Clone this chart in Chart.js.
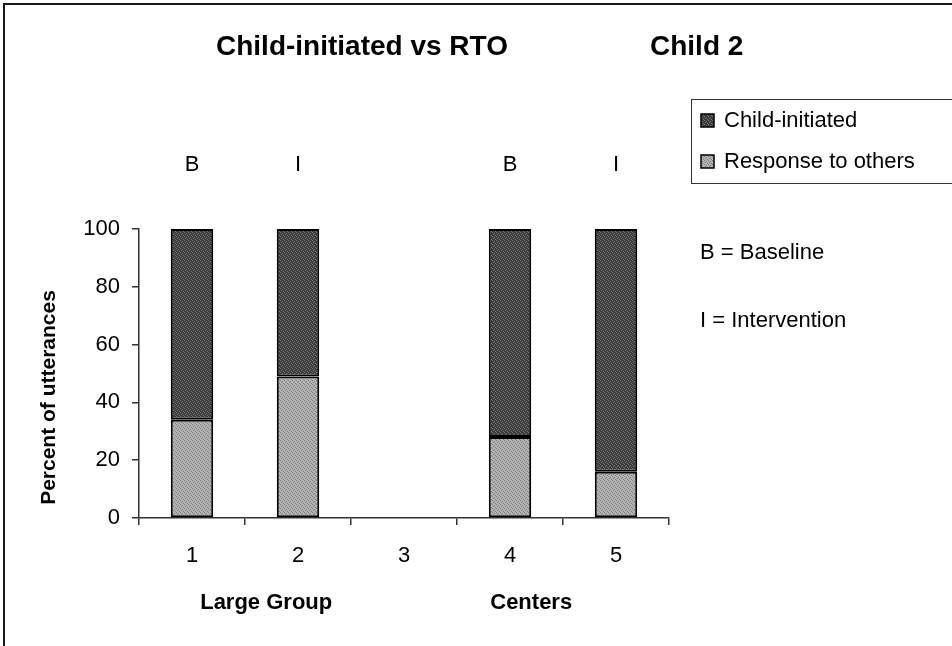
<!DOCTYPE html>
<html>
<head>
<meta charset="utf-8">
<script src="https://cdn.jsdelivr.net/npm/chart.js@4.4.0/dist/chart.umd.min.js"></script>
<style>
  html, body { margin: 0; padding: 0; background: #fff; }
  #wrap { position: relative; width: 952px; height: 646px; }
</style>
</head>
<body>
<div id="wrap"><canvas id="c" width="952" height="646"></canvas></div>
<script>
// Sessions along the x axis
const categories = ['1', '2', '3', '4', '5'];
// Percent of utterances per session (stacked to 100)
const responseToOthers = [34, 49, null, 28, 16];
const childInitiated   = [66, 51, null, 72, 84];
// Y axis tick values
const yTicks = [0, 20, 40, 60, 80, 100];
// Phase letter shown above each session
const phaseLabels = ['B', 'I', '', 'B', 'I'];
// Setting names under the sessions they cover
const groupNames = ['Large Group', 'Centers'];
const groupSpans = [[0, 1], [3, 4]];
// Key for the phase letters
const phaseKey = ['B = Baseline', 'I = Intervention'];

const FONT = '"Liberation Sans", Arial, Helvetica, sans-serif';

// Dithered fills like a printed grey-scale chart
function makePattern(base, dots) {
  const c = document.createElement('canvas');
  c.width = 4; c.height = 4;
  const g = c.getContext('2d');
  g.fillStyle = base;
  g.fillRect(0, 0, 4, 4);
  g.fillStyle = dots;
  [[0,0],[2,1],[1,2],[3,3]].forEach(([px, py]) => g.fillRect(px, py, 1, 1));
  return g.createPattern(c, 'repeat');
}
const darkFill  = makePattern('#3a3a3a', '#7a7a7a');
const lightFill = makePattern('#b4b4b4', '#7c7c7c');

const annotations = {
  id: 'annotations',
  afterDraw(chart) {
    const { ctx, scales: { x, y } } = chart;
    ctx.save();

    // outer frame
    ctx.strokeStyle = '#1a1a1a';
    ctx.lineWidth = 2;
    ctx.beginPath();
    ctx.moveTo(4, 646);
    ctx.lineTo(4, 4);
    ctx.lineTo(952, 4);
    ctx.stroke();

    ctx.fillStyle = '#000';
    ctx.textBaseline = 'middle';

    // title
    ctx.font = 'bold 28px ' + FONT;
    ctx.textAlign = 'left';
    ctx.fillText('Child-initiated vs RTO', 216, 47);
    ctx.fillText('Child 2', 650, 47);

    // y axis title, a little below the axis middle
    ctx.save();
    ctx.font = 'bold 21px ' + FONT;
    ctx.textAlign = 'center';
    ctx.translate(49, (y.top + y.bottom) / 2 + 24);
    ctx.rotate(-Math.PI / 2);
    ctx.fillText('Percent of utterances', 0, 0);
    ctx.restore();

    // phase letters above the bars
    ctx.font = '22px ' + FONT;
    ctx.textAlign = 'center';
    phaseLabels.forEach((t, i) => {
      if (t) ctx.fillText(t, x.getPixelForValue(i), 165);
    });

    // setting names below the axis
    ctx.font = 'bold 22px ' + FONT;
    const shifts = [0.2, -0.3];
    groupNames.forEach((name, i) => {
      const [a, b] = groupSpans[i];
      const cx = x.getPixelForValue((a + b) / 2 + shifts[i]);
      ctx.fillText(name, cx, 603);
    });

    // legend box (runs past the right edge)
    const lx = 691, ly = 99, lh = 84;
    ctx.strokeStyle = '#333';
    ctx.lineWidth = 1;
    ctx.strokeRect(lx + 0.5, ly + 0.5, 300, lh);
    const items = chart.data.datasets.slice().reverse();
    ctx.font = '22px ' + FONT;
    ctx.textAlign = 'left';
    items.forEach((ds, i) => {
      const cy = ly + 22 + i * 41;
      ctx.fillStyle = ds.backgroundColor;
      ctx.fillRect(701, cy - 7, 13, 13);
      ctx.strokeStyle = '#000';
      ctx.lineWidth = 1.5;
      ctx.strokeRect(701, cy - 7, 13, 13);
      ctx.fillStyle = '#000';
      ctx.fillText(ds.label, 724, cy);
    });

    // phase key
    ctx.fillText(phaseKey[0], 700, 253);
    ctx.fillText(phaseKey[1], 700, 321);

    ctx.restore();
  }
};

new Chart(document.getElementById('c'), {
  type: 'bar',
  data: {
    labels: categories,
    datasets: [
      {
        label: 'Response to others',
        data: responseToOthers,
        backgroundColor: lightFill,
        borderColor: '#000',
        borderWidth: 2,
        borderSkipped: false
      },
      {
        label: 'Child-initiated',
        data: childInitiated,
        backgroundColor: darkFill,
        borderColor: '#000',
        borderWidth: 2,
        borderSkipped: false
      }
    ]
  },
  options: {
    responsive: false,
    animation: false,
    devicePixelRatio: 1,
    layout: { padding: { top: 229, right: 283, left: 0, bottom: 0 } },
    plugins: {
      legend: { display: false },
      title: { display: false },
      tooltip: { enabled: false }
    },
    datasets: { bar: { categoryPercentage: 1, barPercentage: 0.4 } },
    scales: {
      x: {
        stacked: true,
        offset: true,
        grid: { offset: true, drawOnChartArea: false, drawTicks: true, tickLength: 7, color: '#333', lineWidth: 1.5 },
        border: { display: true, color: '#333', width: 1.5 },
        ticks: { color: '#000', font: { family: FONT, size: 22 }, padding: 18, maxRotation: 0 },
        afterFit(scale) { scale.height = 128; }
      },
      y: {
        stacked: true,
        min: 0,
        max: 100,
        afterBuildTicks(scale) { scale.ticks = yTicks.map(v => ({ value: v })); },
        grid: { drawOnChartArea: false, drawTicks: true, tickLength: 7, color: '#333', lineWidth: 1.5 },
        border: { display: true, color: '#333', width: 1.5 },
        ticks: { color: '#000', font: { family: FONT, size: 22 }, padding: 12 },
        afterFit(scale) { scale.width = 139; }
      }
    }
  },
  plugins: [annotations]
});
</script>
</body>
</html>
